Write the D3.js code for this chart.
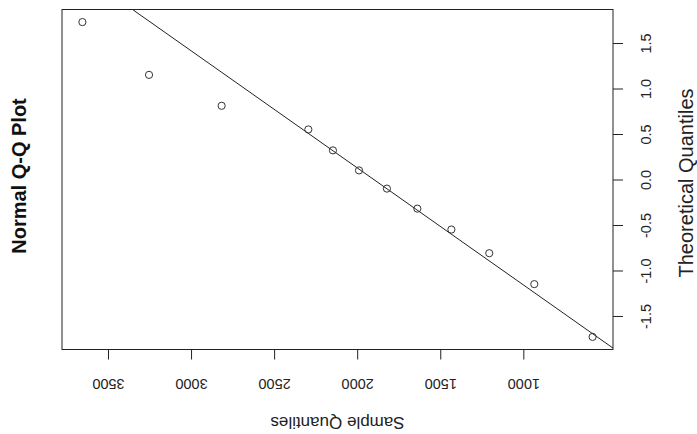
<html>
<title>Normal Q-Q Plot</title>
<script src="https://d3js.org/d3.v7.min.js"></script>

<style>
body { margin: 0; background: #fff; }
svg { display: block; font-family: 'Liberation Sans', Arial, sans-serif; }
.tick line { stroke: #222; }
.tick text { fill: #222; font-size: 14.5px; }
text.lab { fill: #222; text-anchor: middle; dominant-baseline: middle; }
text.main { fill: #111; font-size: 20px; font-weight: bold; text-anchor: middle; dominant-baseline: middle; }
</style>

<body>
<div id="chart"></div>

<script>
// sorted from largest to smallest
var sampleQ = [3654, 3253, 2816, 2294, 2146, 1989, 1821, 1638, 1433, 1205, 934, 583];
var theoQ = [1.73, 1.15, 0.81, 0.55, 0.32, 0.10, -0.10, -0.32, -0.55, -0.81, -1.15, -1.73];
var sampleTicks = [1000, 1500, 2000, 2500, 3000, 3500];
var theoTicks = [-1.5, -1.0, -0.5, 0.0, 0.5, 1.0, 1.5];

var width = 697;
var height = 434;
var box = {left: 62, right: 613, top: 9.5, bottom: 349.5};

var svg = d3.select("#chart").append("svg")
	.attr("width", width).attr("height", height);

// R style 4% range extension
var pad = function(ext) {
	var d = (ext[1] - ext[0]) * 0.04;
	return [ext[0] - d, ext[1] + d];
};
var sExt = pad(d3.extent(sampleQ));
var tExt = pad(d3.extent(theoQ));

// plot is turned: sample quantiles run right to left, theoretical bottom to top
var x = d3.scaleLinear().domain([sExt[1], sExt[0]]).range([box.left, box.right]);
var y = d3.scaleLinear().domain(tExt).range([box.bottom, box.top]);

svg.append("clipPath").attr("id", "clip")
	.append("rect")
	.attr("x", box.left).attr("y", box.top)
	.attr("width", box.right - box.left).attr("height", box.bottom - box.top);

// qqline through the quartiles
var sorted = sampleQ.slice().sort(d3.ascending);
var q25 = d3.quantile(sorted, 0.25);
var q75 = d3.quantile(sorted, 0.75);
var z75 = 0.6745;
var slope = (q75 - q25) / (2 * z75);
var mid = (q25 + q75) / 2;

svg.append("line")
	.attr("clip-path", "url(#clip)")
	.attr("x1", x(mid + slope * tExt[0])).attr("y1", y(tExt[0]))
	.attr("x2", x(mid + slope * tExt[1])).attr("y2", y(tExt[1]))
	.attr("stroke", "#222").attr("stroke-width", 1);

svg.selectAll("circle.pt").data(sampleQ).enter().append("circle")
	.attr("class", "pt")
	.attr("cx", function(d) { return x(d); })
	.attr("cy", function(d, i) { return y(theoQ[i]); })
	.attr("r", 3.6)
	.attr("fill", "none").attr("stroke", "#333").attr("stroke-width", 1);

svg.append("rect")
	.attr("x", box.left).attr("y", box.top)
	.attr("width", box.right - box.left).attr("height", box.bottom - box.top)
	.attr("fill", "none").attr("stroke", "#222").attr("stroke-width", 1);

// bottom axis, labels upside down
var xAxis = d3.axisBottom(x).tickValues(sampleTicks).tickSize(10).tickSizeOuter(0)
	.tickFormat(d3.format("d"));
var gx = svg.append("g").attr("transform", "translate(0," + box.bottom + ")").call(xAxis);
gx.select(".domain").remove();
gx.selectAll(".tick text")
	.attr("y", 0).attr("dy", null)
	.attr("dominant-baseline", "middle")
	.attr("transform", "translate(0,33) rotate(180)");

// right axis, labels reading upward
var yAxis = d3.axisRight(y).tickValues(theoTicks).tickSize(10).tickSizeOuter(0)
	.tickFormat(function(d) { return d.toFixed(1); });
var gy = svg.append("g").attr("transform", "translate(" + box.right + ",0)").call(yAxis);
gy.select(".domain").remove();
gy.selectAll(".tick text")
	.attr("x", 0).attr("dy", null)
	.attr("text-anchor", "middle")
	.attr("dominant-baseline", "middle")
	.attr("transform", "translate(34,0) rotate(-90)");

var cx = (box.left + box.right) / 2;

svg.append("text").attr("class", "main")
	.attr("transform", "translate(21,176) rotate(-90)")
	.text("Normal Q-Q Plot");

svg.append("text").attr("class", "lab")
	.style("font-size", "17px")
	.attr("transform", "translate(" + cx + ",421) rotate(180)")
	.text("Sample Quantiles");

svg.append("text").attr("class", "lab")
	.style("font-size", "20px")
	.attr("transform", "translate(688,183) rotate(-90)")
	.text("Theoretical Quantiles");
</script>
</body>
</html>
